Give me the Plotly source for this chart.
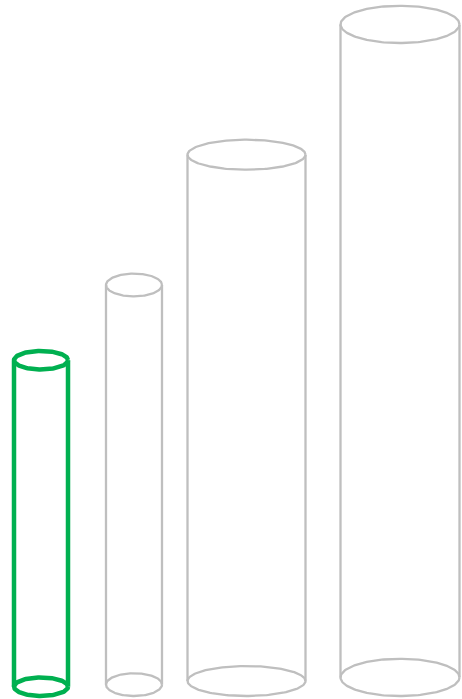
import numpy as np
import plotly.graph_objects as go

# ---- data ----
categories = ["A", "B", "C", "D"]
values = [50, 61.2, 80.6, 100]
highlight = ["A"]

# ---- layout / geometry (pixels mapped through axes) ----
W, H = 462, 699
centers = [41, 134, 246.5, 400]      # x-axis units (== px)
half_widths = [27, 28, 59, 59.5]
px_per_unit = 6.53
base_px = 696
ry_ratio = 0.0285

GREEN = "#00B050"
GRAY = "#BFBFBF"

fig = go.Figure()
t = np.linspace(0, 2 * np.pi, 181)

for cat, v, cx, rx in zip(categories, values, centers, half_widths):
    ry = ry_ratio * v
    yb = ry            # bottom ellipse center
    yt = ry + v        # top ellipse center
    col = GREEN if cat in highlight else GRAY
    lw = 4.5 if cat in highlight else 2.3
    xs, ys = [], []
    xs += list(cx + rx * np.cos(t)); ys += list(yt + ry * np.sin(t)); xs.append(None); ys.append(None)
    xs += list(cx + rx * np.cos(t)); ys += list(yb + ry * np.sin(t)); xs.append(None); ys.append(None)
    xs += [cx - rx, cx - rx, None, cx + rx, cx + rx]
    ys += [yt, yb, None, yt, yb]
    fig.add_trace(go.Scatter(x=xs, y=ys, mode="lines",
                             line=dict(color=col, width=lw),
                             hoverinfo="skip", showlegend=False, name=cat))

fig.update_layout(
    width=W, height=H,
    margin=dict(l=0, r=0, t=0, b=0),
    paper_bgcolor="white", plot_bgcolor="white",
    xaxis=dict(range=[0, W], visible=False, fixedrange=True),
    yaxis=dict(range=[-(H - base_px) / px_per_unit, base_px / px_per_unit],
               visible=False, fixedrange=True),
)

fig.write_html("out.html",
               config={"displayModeBar": False},
               post_script="document.body.style.margin='0';document.body.style.padding='0';document.body.style.overflow='hidden';")
